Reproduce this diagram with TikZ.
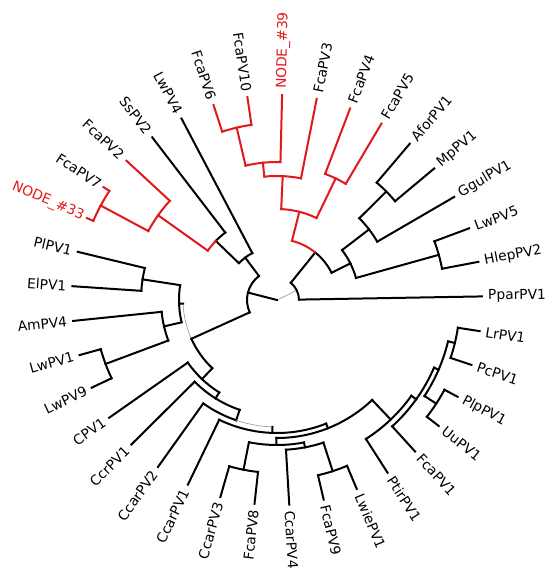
\documentclass[tikz,border=0pt]{standalone}
\usepackage{fontspec}
\setmainfont{DejaVu Sans}
\definecolor{treered}{RGB}{226,24,28}
\definecolor{thingray}{RGB}{150,150,150}
\tikzset{
  br/.style={line width=2pt, line cap=rect, draw=black},
  rbr/.style={br, draw=treered},
  gbr/.style={line width=0.6pt, draw=thingray},
  lab/.style={inner sep=2pt, font=\fontsize{13.8}{15}\selectfont}
}
% radial branch: [style]{angle}{r1}{r2}
\newcommand\brR[4][br]{\draw[#1] (#2:#3pt) -- (#2:#4pt);}
% arc: [style]{radius}{a1}{a2}
\newcommand\brA[4][br]{\draw[#1] (#3:#2pt) arc[start angle=#3,end angle=#4,radius=#2pt];}
\newcommand\labR[4][black]{\node[lab,text=#1,anchor=west,rotate=#3] (#2) at (#3:209pt) {#4};}
\newcommand\labL[4][black]{\node[lab,text=#1,anchor=east,rotate={#3-180}] (#2) at (#3:209pt) {#4};}
\begin{document}
\begin{tikzpicture}
\useasboundingbox (-277pt,-277pt) rectangle (273pt,300pt);
\fill[white] (-277pt,-277pt) rectangle (273pt,300pt);
\coordinate (root) at (0,0);
% root
\draw[gbr] (root) -- (26.085:22pt);
\draw[br] (root) -- (165.63:30pt);
% ---------------- right clade R
\brA{22}{1.00}{51.17}
\brR{1.00}{22}{205}
\brR{51.17}{22}{61}
\brA{61}{26.54}{51.17}
\brA[rbr]{61}{51.17}{75.8}
\brR{26.54}{61}{82}
\brR[rbr]{75.8}{61}{91}
% B1
\brA{82}{15.595}{37.49}
\brR{15.595}{82}{168}
\brR{37.49}{82}{116}
% LH
\brA{168}{10.73}{20.46}
\brR{10.73}{168}{205}
\brR{20.46}{168}{205}
% B2
\brA{116}{30.19}{44.785}
\brR{30.19}{116}{205}
\brR{44.785}{116}{154}
% AM
\brA{154}{39.92}{49.65}
\brR{39.92}{154}{205}
\brR{49.65}{154}{205}
% RC (red)
\brA[rbr]{91}{64.245}{87.355}
\brR[rbr]{64.245}{91}{135}
\brR[rbr]{87.355}{91}{124}
\brA[rbr]{135}{59.38}{69.11}
\brR[rbr]{59.38}{135}{205}
\brR[rbr]{69.11}{135}{205}
\brA[rbr]{124}{78.84}{95.87}
\brR[rbr]{78.84}{124}{205}
\brR[rbr]{95.87}{124}{138}
\brA[rbr]{138}{88.57}{103.165}
\brR[rbr]{88.57}{138}{205}
\brR[rbr]{103.165}{138}{177}
\brA[rbr]{177}{98.30}{108.03}
\brR[rbr]{98.30}{177}{205}
\brR[rbr]{108.03}{177}{205}
% ---------------- left clade L
\brA{30}{126.88}{204.375}
\brR{126.88}{30}{53}
\brR{204.375}{30}{94}
% SsLw
\brA{53}{117.76}{136.0}
\brR{117.76}{53}{205}
\brR{136.0}{53}{85}
% X
\brA{85}{127.49}{136.0}
\brA[rbr]{85}{136.0}{144.52}
\brR{127.49}{85}{205}
\brR[rbr]{144.52}{85}{146}
% R1 red
\brA[rbr]{146}{137.22}{151.815}
\brR[rbr]{137.22}{146}{205}
\brR[rbr]{151.815}{146}{200}
\brA[rbr]{200}{146.95}{156.68}
\brR[rbr]{146.95}{200}{207}
\brR[rbr]{156.68}{200}{207}
% M
\brA[gbr]{94}{182.22}{204.375}
\brA{94}{204.375}{226.53}
\brR{182.22}{94}{98}
\brR{226.53}{94}{109}
% PEA
\brA{98}{171.275}{193.16}
\brR{171.275}{98}{136}
\brR{193.16}{98}{116}
\brA{136}{166.41}{176.14}
\brR{166.41}{136}{205}
\brR{176.14}{136}{205}
\brA{116}{185.86}{200.455}
\brR{185.86}{116}{205}
\brR{200.455}{116}{183}
\brA{183}{195.59}{205.32}
\brR{195.59}{183}{205}
\brR{205.32}{183}{205}
% ladder N1..N5
\brA{109}{215.05}{238.01}
\brR{215.05}{109}{205}
\brR{238.01}{109}{116}
\brA{116}{224.78}{251.235}
\brR{224.78}{116}{205}
\brR{251.235}{116}{127}
\brA{127}{234.51}{251.235}
\brA[gbr]{127}{251.235}{267.96}
\brR{234.51}{127}{205}
\brR{267.96}{127}{133}
\brA{133}{244.24}{291.675}
\brR{244.24}{133}{205}
\brR{291.675}{133}{138}
\brA{138}{269.78}{313.57}
\brR{269.78}{138}{145}
\brR{313.57}{138}{165}
% A1
\brA{145}{258.835}{280.73}
\brR{258.835}{145}{173}
\brR{280.73}{145}{150}
\brA{173}{253.97}{263.70}
\brR{253.97}{173}{205}
\brR{263.70}{173}{205}
\brA{150}{273.43}{288.025}
\brR{273.43}{150}{205}
\brR{288.025}{150}{180}
\brA{180}{283.16}{292.89}
\brR{283.16}{180}{205}
\brR{292.89}{180}{205}
% PF
\brA{165}{302.62}{324.51}
\brR{302.62}{165}{205}
\brR{324.51}{165}{171}
\brA{171}{312.35}{336.675}
\brR{312.35}{171}{205}
\brR{336.675}{171}{176}
\brA{176}{326.945}{346.405}
\brR{326.945}{176}{190}
\brR{346.405}{176}{183}
\brA{190}{322.08}{331.81}
\brR{322.08}{190}{205}
\brR{331.81}{190}{205}
\brA{183}{341.54}{351.27}
\brR{341.54}{183}{205}
\brR{351.27}{183}{205}
% ---------------- labels
\labR{l00}{1.00}{PparPV1}
\labR{l01}{10.73}{HlepPV2}
\labR{l02}{20.46}{LwPV5}
\labR{l03}{30.19}{GgulPV1}
\labR{l04}{39.92}{MpPV1}
\labR{l05}{49.65}{AforPV1}
\labR{l06}{59.38}{FcaPV5}
\labR{l07}{69.11}{FcaPV4}
\labR{l08}{78.84}{FcaPV3}
\labR[treered]{l09}{88.57}{NODE\_\#39}
\labL{l10}{98.30}{FcaPV10}
\labL{l11}{108.03}{FcaPV6}
\labL{l12}{117.76}{LwPV4}
\labL{l13}{127.49}{SsPV2}
\labL{l14}{137.22}{FcaPV2}
\labL{l15}{146.95}{FcaPV7}
\labL[treered]{l16}{156.68}{NODE\_\#33}
\labL{l17}{166.41}{PlPV1}
\labL{l18}{176.14}{ElPV1}
\labL{l19}{185.86}{AmPV4}
\labL{l20}{195.59}{LwPV1}
\labL{l21}{205.32}{LwPV9}
\labL{l22}{215.05}{CPV1}
\labL{l23}{224.78}{CcrPV1}
\labL{l24}{234.51}{CcarPV2}
\labL{l25}{244.24}{CcarPV1}
\labL{l26}{253.97}{CcarPV3}
\labL{l27}{263.70}{FcaPV8}
\labR{l28}{273.43}{CcarPV4}
\labR{l29}{283.16}{FcaPV9}
\labR{l30}{292.89}{LwiePV1}
\labR{l31}{302.62}{PtirPV1}
\labR{l32}{312.35}{FcaPV1}
\labR{l33}{322.08}{UuPV1}
\labR{l34}{331.81}{PlpPV1}
\labR{l35}{341.54}{PcPV1}
\labR{l36}{351.27}{LrPV1}
\end{tikzpicture}
\end{document}
